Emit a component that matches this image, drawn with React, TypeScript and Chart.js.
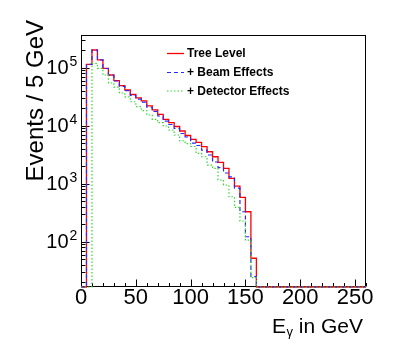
import React, { useEffect, useRef } from 'react';
import { Chart, registerables } from 'chart.js';

Chart.register(...registerables);

// ---- data ----
const binLowEdges = [0, 5, 10, 15, 20, 25, 30, 35, 40, 45, 50, 55, 60, 65, 70, 75, 80, 85, 90, 95, 100, 105, 110, 115, 120, 125, 130, 135, 140, 145, 150, 155];
const binWidth = 5;
const treeLevel = [0, 114000, 202000, 136000, 97700, 74800, 59700, 48900, 41300, 34500, 30100, 26700, 21900, 18700, 15700, 12900, 11300, 9690, 8100, 6780, 5830, 5180, 4350, 3560, 2920, 2340, 1840, 1240, 912, 583, 329, 52];
const beamEffects = [0, 114000, 202000, 136000, 96900, 74000, 59000, 47800, 40100, 33400, 28800, 25600, 20800, 17600, 14700, 12000, 10500, 8950, 7340, 6390, 5030, 4560, 3810, 3130, 2370, 1900, 1530, 1310, 843, 329, 122, 25];
const detectorEffects = [0, 0, 119000, 97700, 74800, 54500, 46400, 36600, 31300, 25900, 21300, 18200, 15300, 12900, 11300, 9880, 8440, 6920, 5510, 4930, 4380, 3340, 2920, 2100, 1840, 1160, 950, 597, 392, 228, 107, 24];
const seriesLabels = ['Tree Level', '+ Beam Effects', '+ Detector Effects'];
const xTickValues = [0, 50, 100, 150, 200, 250];
const xTickLabels = ['0', '50', '100', '150', '200', '250'];
const yTickValues = [100, 1000, 10000, 100000];
const yTickExponents = ['2', '3', '4', '5'];
const xTitleMain = 'E';
const xTitleSub = 'γ';
const xTitleRest = ' in GeV';
const yTitle = 'Events / 5 GeV';

const X_MIN = 0;
const X_MAX = 260;
const Y_MIN = 16.6;
const Y_MAX = 3.66e5;

const FONT = "'Liberation Sans', Arial, Helvetica, sans-serif";

const styles = [
  { color: '#ff0000', dash: [] as number[], width: 1.3 },
  { color: '#2a2aff', dash: [4, 3], width: 1.2 },
  { color: '#30d830', dash: [1.5, 2], width: 1.2 },
];

function histPoints(values: number[]) {
  const pts: { x: number; y: number }[] = [];
  for (let i = 0; i < binLowEdges.length; i++) {
    pts.push({ x: binLowEdges[i], y: values[i] > 0 ? values[i] : Y_MIN });
  }
  pts.push({ x: binLowEdges[binLowEdges.length - 1] + binWidth, y: Y_MIN });
  pts.push({ x: X_MAX, y: Y_MIN });
  return pts;
}

const rootPlugin = {
  id: 'rootStyle',
  beforeDatasetsDraw(chart: any) {
    const { ctx, chartArea: a } = chart;
    const xs = chart.scales.x;
    const ys = chart.scales.y;
    ctx.save();
    ctx.strokeStyle = '#000';
    ctx.lineWidth = 1;
    ctx.strokeRect(a.left + 0.5, a.top + 0.5, a.right - a.left - 1, a.bottom - a.top - 1);
    ctx.beginPath();
    for (let v = X_MIN; v <= X_MAX; v += 10) {
      const px = Math.round(xs.getPixelForValue(v)) + 0.5;
      const len = v % 50 === 0 ? 7 : 3.5;
      ctx.moveTo(px, a.bottom - 0.5);
      ctx.lineTo(px, a.bottom - 0.5 - len);
    }
    for (let e = 1; e <= 5; e++) {
      for (let m = 1; m <= 9; m++) {
        const v = m * Math.pow(10, e);
        if (v < Y_MIN || v > Y_MAX) continue;
        const py = Math.round(ys.getPixelForValue(v)) + 0.5;
        const len = m === 1 ? 8 : 4;
        ctx.moveTo(a.left + 0.5, py);
        ctx.lineTo(a.left + 0.5 + len, py);
      }
    }
    ctx.stroke();
    ctx.restore();
  },
  afterDraw(chart: any) {
    const { ctx, chartArea: a } = chart;
    const xs = chart.scales.x;
    const ys = chart.scales.y;
    ctx.save();
    ctx.fillStyle = '#000';
    // x tick labels
    ctx.font = `22px ${FONT}`;
    ctx.textAlign = 'center';
    ctx.textBaseline = 'alphabetic';
    xTickValues.forEach((v, i) => {
      ctx.fillText(xTickLabels[i], xs.getPixelForValue(v), a.bottom + 17);
    });
    // y tick labels
    yTickValues.forEach((v, i) => {
      const py = ys.getPixelForValue(v);
      ctx.font = `20px ${FONT}`;
      ctx.textAlign = 'right';
      ctx.textBaseline = 'middle';
      ctx.fillText('10', 68.5, py + 1);
      ctx.font = `14px ${FONT}`;
      ctx.textAlign = 'left';
      ctx.fillText(yTickExponents[i], 69.5, py - 6);
    });
    // x title
    ctx.textBaseline = 'alphabetic';
    ctx.textAlign = 'right';
    ctx.font = `21px ${FONT}`;
    const rightX = 363;
    const baseY = 333;
    ctx.fillText(xTitleRest, rightX, baseY);
    const w1 = ctx.measureText(xTitleRest).width;
    ctx.font = `13px ${FONT}`;
    ctx.fillText(xTitleSub, rightX - w1, baseY + 3);
    const w2 = ctx.measureText(xTitleSub).width;
    ctx.font = `21px ${FONT}`;
    ctx.fillText(xTitleMain, rightX - w1 - w2 - 0.5, baseY);
    // y title
    ctx.save();
    ctx.translate(43, 20);
    ctx.rotate(-Math.PI / 2);
    ctx.textAlign = 'right';
    ctx.textBaseline = 'alphabetic';
    ctx.font = `24px ${FONT}`;
    ctx.fillText(yTitle, 0, 0);
    ctx.restore();
    // legend
    const rows = [53.5, 72.5, 91];
    seriesLabels.forEach((lab, i) => {
      const st = styles[i];
      ctx.save();
      ctx.strokeStyle = st.color;
      ctx.lineWidth = st.width;
      ctx.setLineDash(st.dash);
      ctx.beginPath();
      ctx.moveTo(167, rows[i]);
      ctx.lineTo(184, rows[i]);
      ctx.stroke();
      ctx.restore();
      ctx.font = `bold 12px ${FONT}`;
      ctx.textAlign = 'left';
      ctx.textBaseline = 'middle';
      ctx.fillStyle = '#000';
      ctx.fillText(lab, 187, rows[i] + 0.5);
    });
    ctx.restore();
  },
};

export default function App() {
  const canvasRef = useRef<HTMLCanvasElement | null>(null);
  useEffect(() => {
    if (!canvasRef.current) return;
    const seriesValues = [treeLevel, beamEffects, detectorEffects];
    const chart = new Chart(canvasRef.current, {
      type: 'line',
      data: {
        datasets: seriesValues.map((vals, i) => ({
          label: seriesLabels[i],
          data: histPoints(vals),
          borderColor: styles[i].color,
          borderWidth: styles[i].width,
          borderDash: styles[i].dash,
          stepped: 'before' as const,
          pointRadius: 0,
          fill: false,
          tension: 0,
          clip: 3,
          order: 3 - i,
        })),
      },
      options: {
        animation: false,
        responsive: false,
        maintainAspectRatio: false,
        layout: { padding: { left: 81, right: 41, top: 35, bottom: 71 } },
        plugins: { legend: { display: false }, tooltip: { enabled: false }, title: { display: false } },
        scales: {
          x: { type: 'linear', min: X_MIN, max: X_MAX, display: false },
          y: { type: 'logarithmic', min: Y_MIN, max: Y_MAX, display: false },
        },
      },
      plugins: [rootPlugin],
    });
    return () => chart.destroy();
  }, []);
  return (
    <div style={{ position: 'fixed', left: 0, top: 0, width: 407, height: 358, background: '#fff' }}>
      <canvas ref={canvasRef} width={407} height={358} style={{ display: 'block' }} />
    </div>
  );
}
